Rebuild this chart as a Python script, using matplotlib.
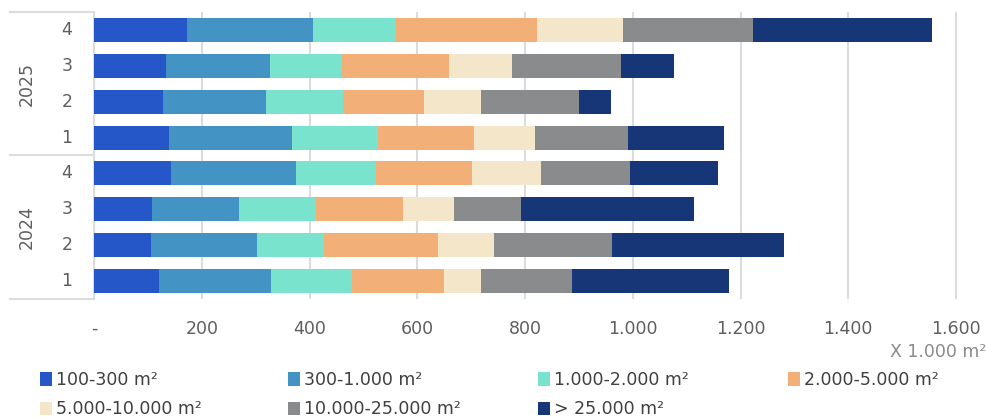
import numpy as np
import matplotlib
matplotlib.use("Agg")
import matplotlib.pyplot as plt
from matplotlib.lines import Line2D

plt.rcParams['font.family'] = ['DejaVu Sans']

# rows from top to bottom
years = ["2025", "2024"]
quarters = ["4", "3", "2", "1", "4", "3", "2", "1"]

labels = ["100-300 m²", "300-1.000 m²", "1.000-2.000 m²", "2.000-5.000 m²",
          "5.000-10.000 m²", "10.000-25.000 m²", "> 25.000 m²"]
colors = ["#2557C9", "#4393C4", "#79E3CE", "#F2AF78", "#F4E6C9", "#8A8B8D", "#163677"]

s_100_300 = [172, 133, 128, 140, 142, 108, 106, 120]
s_300_1000 = [235, 193, 192, 227, 232, 162, 197, 208]
s_1000_2000 = [153, 134, 142, 160, 149, 142, 123, 151]
s_2000_5000 = [263, 199, 150, 179, 179, 161, 213, 170]
s_5000_10000 = [158, 116, 107, 112, 128, 96, 103, 69]
s_10000_25000 = [243, 203, 182, 173, 164, 124, 219, 169]
s_25000 = [332, 98, 59, 179, 164, 321, 319, 291]

series = [s_100_300, s_300_1000, s_1000_2000, s_2000_5000,
          s_5000_10000, s_10000_25000, s_25000]

xticks = [0, 200, 400, 600, 800, 1000, 1200, 1400, 1600]
xticklabels = ["-", "200", "400", "600", "800", "1.000", "1.200", "1.400", "1.600"]

FS = 12.5
TXT = "#5f5f5f"

fig = plt.figure(figsize=(9.87, 4.19), dpi=100)
ax = fig.add_axes([94/987, 1 - 299/419, 889/987, 287/419])

y = np.arange(len(quarters))
left = np.zeros(len(quarters))
handles = []
for vals, col, lab in zip(series, colors, labels):
    h = ax.barh(y, vals, left=left, height=0.67, color=col, label=lab, zorder=3)
    handles.append(h)
    left += np.array(vals)

ax.set_ylim(7.5, -0.5)
ax.set_xlim(0, 1650)
ax.set_xticks(xticks)
ax.set_xticklabels(xticklabels)
ax.tick_params(axis='x', length=0, pad=15, labelsize=FS, labelcolor=TXT)
ax.set_yticks([])
ax.grid(axis='x', color="#dcdcdc", linewidth=1.5, zorder=0)
for s in ax.spines.values():
    s.set_visible(False)

# grouped category axis
grid_col = "#dcdcdc"
trans = ax.get_yaxis_transform()
ax.add_line(Line2D([0, 0], [-0.5, 7.5], transform=trans, color=grid_col,
                   linewidth=1.5, clip_on=False))
for yy in [-0.5, 3.5, 7.5]:
    ax.add_line(Line2D([-84/889, 0], [yy, yy], transform=trans, color=grid_col,
                       linewidth=1.5, clip_on=False))
for i, q in enumerate(quarters):
    ax.text(-27/889, i, q, transform=trans, ha='center', va='center',
            fontsize=FS, color=TXT)
for k, yr in enumerate(years):
    ax.text(-67/889, 1.5 + 4*k, yr, transform=trans, ha='center', va='center',
            rotation=90, fontsize=FS, color=TXT)

fig.text(986/987, 1 - 352/419, "X 1.000 m²", ha='right', va='center',
         fontsize=FS, color="#8a8a8a")

# legend: four columns, row-major order
col_x = [40, 288, 538, 788]
for c, x0 in enumerate(col_x):
    idx = [i for i in (c, c + 4) if i < len(labels)]
    fig.legend([handles[i] for i in idx], [labels[i] for i in idx],
               loc='upper left', bbox_to_anchor=(x0/987, 1 - 371/419),
               frameon=False, fontsize=FS, handlelength=0.7, handleheight=0.8,
               handletextpad=0.2, labelspacing=0.65, labelcolor="#404040",
               borderaxespad=0, borderpad=0)

fig.savefig("out.png", dpi=100)
